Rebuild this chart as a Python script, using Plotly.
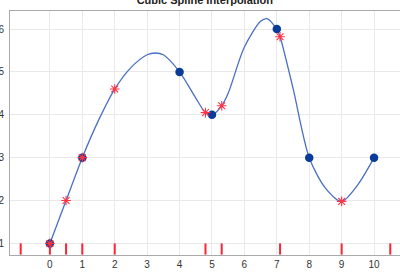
import plotly.graph_objects as go

# Known data points
known_x = [0, 1, 4, 5, 7, 8, 10]
known_y = [1, 3, 5, 4, 6, 3, 3]

# Interpolated query points (red asterisks)
interp_x = [0, 0.5, 1, 2, 4.8, 5.3, 7.1, 9]
interp_y = [1, 2.0, 3, 4.6, 4.05, 4.21, 5.82, 1.98]

# Spline curve
curve_x = [0, 0.5, 1, 1.5, 2, 2.5, 3, 3.25, 3.5, 4, 4.5, 4.8, 5, 5.3, 5.5,
           6, 6.5, 6.7, 7, 7.1, 7.5, 8, 8.5, 9, 9.5, 10]
curve_y = [1, 2.0, 3, 3.87, 4.6, 5.1, 5.40, 5.44, 5.40, 5.0, 4.39, 4.05, 4.0,
           4.21, 4.5, 5.58, 6.18, 6.24, 6.0, 5.82, 4.62, 3.0, 2.29, 1.98, 2.37, 3.0]

# Rug positions (all query x values)
rug_x = [-0.9, 0, 0.5, 1, 2, 4.8, 5.3, 7.1, 9, 10.5]
rug_level = 0.87

x_ticks = list(range(0, 11))
y_ticks = [1, 2, 3, 4, 5, 6]

fig = go.Figure()

fig.add_trace(go.Scatter(
    x=curve_x, y=curve_y, mode="lines",
    line=dict(color="#4a70c2", width=1.3, shape="spline", smoothing=0.8),
    hoverinfo="skip", showlegend=False))

fig.add_trace(go.Scatter(
    x=known_x, y=known_y, mode="markers",
    marker=dict(color="#0a3b99", size=8.5), showlegend=False))

fig.add_trace(go.Scatter(
    x=interp_x, y=interp_y, mode="markers",
    marker=dict(symbol="asterisk-open", color="#ff3344", size=8,
                line=dict(color="#ff3344", width=1.1)),
    showlegend=False))

fig.add_trace(go.Scatter(
    x=rug_x, y=[rug_level] * len(rug_x), mode="markers",
    marker=dict(symbol="line-ns", color="#ff2233", size=8,
                line=dict(color="#ff2233", width=2)),
    showlegend=False))

fig.update_layout(
    width=400, height=277,
    margin=dict(l=10, r=0, t=11, b=22, autoexpand=False),
    paper_bgcolor="white", plot_bgcolor="white",
    title=dict(text="<b>Cubic Spline Interpolation</b>", x=0.512, xanchor="center",
               y=0.998, yanchor="middle", automargin=False,
               font=dict(family="Liberation Sans, Arial", size=11, color="#222")),
    font=dict(family="Liberation Sans, Arial", size=10, color="#333"),
    xaxis=dict(range=[-1.23, 10.8], tickvals=x_ticks, showgrid=True,
               gridcolor="#e9e9e9", gridwidth=1, zeroline=False, automargin=False,
               showline=True, linecolor="#aaaaaa", linewidth=1, mirror=True,
               ticks="", tickfont=dict(size=10, color="#333")),
    yaxis=dict(range=[0.73, 6.42], tickvals=y_ticks, showgrid=True,
               gridcolor="#e9e9e9", gridwidth=1, zeroline=False, automargin=False,
               showline=True, linecolor="#aaaaaa", linewidth=1, mirror=True,
               ticks="", ticklabelstandoff=3, tickfont=dict(size=10, color="#333")),
)

fig.write_html("out.html")
